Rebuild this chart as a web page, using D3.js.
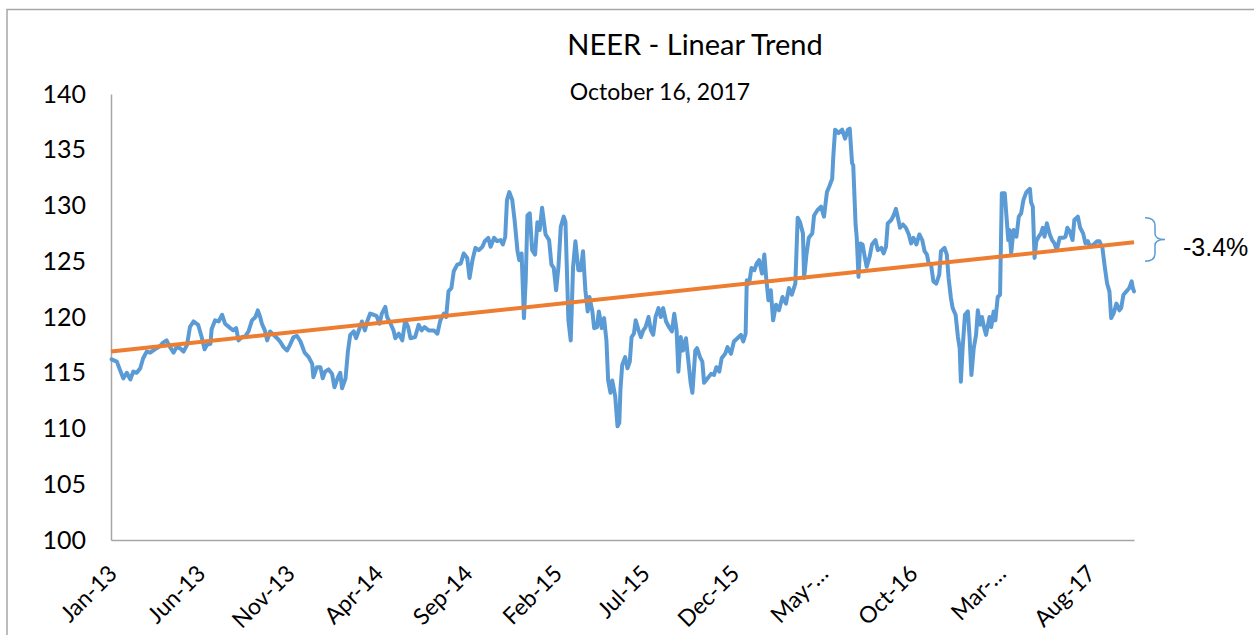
<!DOCTYPE html>
<html>
<head>
<meta charset="utf-8">
<script src="https://cdnjs.cloudflare.com/ajax/libs/d3/7.8.5/d3.min.js"></script>
<style>
  body { margin: 0; background: #fff; }
  svg { font-family: Lato, "Open Sans", sans-serif; }
</style>
</head>
<body>
<script>
// NEER daily index (date, value)
const neer = [
  ["2013-01-02",116.2],["2013-01-11",116.0],["2013-01-16",115.3],["2013-01-22",114.5],["2013-01-28",115.0],
  ["2013-02-03",114.4],["2013-02-08",115.1],["2013-02-14",115.0],["2013-02-20",115.4],["2013-02-25",116.3],
  ["2013-03-03",116.9],["2013-03-09",116.8],["2013-03-17",117.1],["2013-03-26",117.4],["2013-03-31",117.7],
  ["2013-04-06",117.9],["2013-04-12",117.3],["2013-04-18",116.8],["2013-04-23",117.3],["2013-04-29",117.2],
  ["2013-05-05",116.9],["2013-05-11",117.5],["2013-05-16",119.1],["2013-05-22",119.6],["2013-05-30",119.3],
  ["2013-06-05",118.2],["2013-06-10",117.1],["2013-06-14",117.5],["2013-06-20",117.6],["2013-06-22",118.9],["2013-06-28",119.7],
  ["2013-07-04",119.6],["2013-07-10",120.2],["2013-07-15",119.4],["2013-07-24",119.0],["2013-07-29",118.8],
  ["2013-08-03",119.0],["2013-08-07",117.9],["2013-08-13",118.2],["2013-08-19",118.3],["2013-08-24",118.7],["2013-08-30",119.7],
  ["2013-09-05",120.0],["2013-09-09",120.6],["2013-09-13",120.0],["2013-09-16",119.4],["2013-09-21",118.8],["2013-09-25",117.9],["2013-09-30",118.7],
  ["2013-10-06",118.4],["2013-10-12",118.1],["2013-10-17",117.8],["2013-10-23",117.3],["2013-10-29",117.0],
  ["2013-11-03",117.5],["2013-11-09",118.2],["2013-11-15",118.3],["2013-11-21",117.8],["2013-11-28",116.8],
  ["2013-12-05",116.4],["2013-12-11",115.8],["2013-12-13",114.6],["2013-12-19",115.5],["2013-12-25",115.5],["2013-12-29",114.5],
  ["2014-01-02",115.1],["2014-01-08",115.3],["2014-01-14",114.9],["2014-01-18",113.7],["2014-01-22",114.3],["2014-01-25",114.7],["2014-01-28",115.0],["2014-01-31",113.6],
  ["2014-02-06",114.5],["2014-02-10",116.9],["2014-02-14",118.4],["2014-02-20",118.7],["2014-02-24",118.1],["2014-02-28",118.7],
  ["2014-03-06",119.6],["2014-03-11",118.8],["2014-03-15",119.6],["2014-03-20",120.3],["2014-03-26",120.2],["2014-03-31",120.1],
  ["2014-04-05",119.4],["2014-04-09",120.3],["2014-04-15",120.9],["2014-04-18",120.0],["2014-04-24",119.4],["2014-04-29",118.8],
  ["2014-05-02",118.1],["2014-05-08",118.5],["2014-05-14",117.9],["2014-05-19",119.7],["2014-05-24",119.1],["2014-05-28",118.1],
  ["2014-06-05",118.2],["2014-06-11",119.3],["2014-06-16",118.8],["2014-06-21",119.1],["2014-06-28",118.8],
  ["2014-07-07",118.8],["2014-07-13",118.5],["2014-07-18",119.7],["2014-07-24",120.3],["2014-07-28",120.0],
  ["2014-08-01",122.3],["2014-08-06",122.6],["2014-08-10",124.1],["2014-08-16",124.7],["2014-08-22",124.8],["2014-08-27",125.7],
  ["2014-09-02",125.3],["2014-09-06",123.5],["2014-09-11",125.1],["2014-09-16",126.2],["2014-09-22",126.0],["2014-09-28",126.3],
  ["2014-10-02",126.8],["2014-10-08",127.1],["2014-10-12",126.3],["2014-10-18",127.1],["2014-10-23",126.8],["2014-10-29",126.9],
  ["2014-11-02",126.5],["2014-11-06",127.2],["2014-11-09",130.5],["2014-11-13",131.2],["2014-11-18",130.5],["2014-11-22",128.7],["2014-11-27",125.9],["2014-11-30",125.1],
  ["2014-12-04",125.7],["2014-12-08",119.9],["2014-12-11",123.3],["2014-12-14",129.1],["2014-12-18",129.3],["2014-12-22",126.0],["2014-12-27",125.6],["2014-12-31",128.5],
  ["2015-01-04",127.8],["2015-01-08",129.8],["2015-01-14",127.4],["2015-01-20",126.9],["2015-01-24",124.7],["2015-01-28",124.4],
  ["2015-02-01",122.4],["2015-02-05",124.5],["2015-02-09",128.1],["2015-02-14",129.0],["2015-02-17",128.5],["2015-02-22",119.7],["2015-02-26",117.9],
  ["2015-03-02",124.5],["2015-03-06",126.8],["2015-03-11",124.2],["2015-03-15",124.2],["2015-03-19",125.9],["2015-03-23",122.4],["2015-03-27",120.5],["2015-03-30",121.8],
  ["2015-04-04",120.5],["2015-04-07",119.0],["2015-04-12",119.1],["2015-04-15",120.5],["2015-04-20",119.0],["2015-04-24",119.9],["2015-04-28",117.9],
  ["2015-05-01",114.3],["2015-05-05",113.2],["2015-05-08",114.3],["2015-05-13",112.9],["2015-05-17",110.2],["2015-05-20",110.5],["2015-05-22",113.5],["2015-05-25",115.7],["2015-05-30",116.4],
  ["2015-06-03",115.4],["2015-06-07",116.0],["2015-06-10",118.2],["2015-06-14",118.5],["2015-06-17",119.7],["2015-06-22",118.8],["2015-06-26",118.2],["2015-06-30",118.8],
  ["2015-07-04",119.1],["2015-07-09",120.0],["2015-07-13",118.8],["2015-07-17",118.4],["2015-07-21",120.0],["2015-07-26",120.8],["2015-07-30",120.0],
  ["2015-08-03",120.8],["2015-08-08",119.6],["2015-08-13",119.1],["2015-08-18",118.7],["2015-08-22",120.3],["2015-08-26",118.8],["2015-08-29",115.1],
  ["2015-09-02",118.2],["2015-09-06",117.0],["2015-09-11",118.1],["2015-09-15",116.1],["2015-09-19",114.1],["2015-09-22",113.2],["2015-09-27",117.0],["2015-09-30",117.2],
  ["2015-10-05",116.4],["2015-10-09",116.0],["2015-10-12",114.1],["2015-10-18",114.5],["2015-10-24",114.9],["2015-10-29",114.8],
  ["2015-11-02",115.5],["2015-11-07",115.1],["2015-11-11",116.3],["2015-11-17",116.7],["2015-11-21",117.3],["2015-11-27",116.7],
  ["2015-12-02",117.8],["2015-12-08",118.1],["2015-12-14",118.4],["2015-12-18",117.8],["2015-12-22",118.5],["2015-12-24",123.3],["2015-12-28",123.0],
  ["2016-01-01",124.4],["2016-01-06",124.2],["2016-01-10",124.8],["2016-01-14",125.1],["2016-01-19",123.9],["2016-01-23",125.6],["2016-01-26",123.6],["2016-01-30",121.5],
  ["2016-02-03",122.4],["2016-02-07",119.7],["2016-02-12",121.1],["2016-02-17",120.6],["2016-02-23",121.8],["2016-02-29",121.2],
  ["2016-03-05",122.6],["2016-03-10",122.0],["2016-03-16",123.0],["2016-03-20",128.9],["2016-03-24",128.5],["2016-03-29",127.5],["2016-03-31",123.5],
  ["2016-04-04",125.6],["2016-04-08",127.1],["2016-04-14",127.5],["2016-04-17",129.1],["2016-04-23",129.6],["2016-04-29",129.9],
  ["2016-05-04",129.0],["2016-05-09",131.2],["2016-05-13",131.7],["2016-05-18",132.4],["2016-05-20",134.5],["2016-05-23",136.8],["2016-05-29",136.5],
  ["2016-06-04",136.8],["2016-06-09",136.0],["2016-06-14",136.8],["2016-06-17",136.9],["2016-06-21",133.8],["2016-06-23",133.6],["2016-06-27",128.3],["2016-06-29",127.1],
  ["2016-07-02",123.6],["2016-07-05",126.6],["2016-07-09",126.5],["2016-07-13",125.3],["2016-07-16",124.5],["2016-07-21",125.4],["2016-07-25",126.5],["2016-07-31",126.9],
  ["2016-08-04",126.0],["2016-08-10",126.2],["2016-08-14",125.7],["2016-08-18",126.3],["2016-08-21",128.4],["2016-08-27",128.7],["2016-08-31",129.1],
  ["2016-09-04",129.7],["2016-09-07",129.0],["2016-09-11",128.0],["2016-09-16",128.3],["2016-09-21",128.0],["2016-09-26",127.4],["2016-09-30",126.6],
  ["2016-10-04",127.1],["2016-10-09",126.5],["2016-10-14",127.4],["2016-10-19",126.9],["2016-10-23",125.9],["2016-10-27",125.6],["2016-10-30",124.8],
  ["2016-11-03",124.7],["2016-11-07",123.2],["2016-11-12",123.0],["2016-11-17",123.8],["2016-11-20",125.9],["2016-11-26",126.2],["2016-11-30",125.6],
  ["2016-12-03",123.5],["2016-12-07",121.7],["2016-12-10",120.8],["2016-12-15",120.2],["2016-12-19",118.2],["2016-12-22",117.2],["2016-12-24",114.2],["2016-12-27",117.2],["2016-12-31",120.2],
  ["2017-01-05",120.5],["2017-01-08",118.1],["2017-01-11",114.8],["2017-01-15",117.2],["2017-01-19",118.4],["2017-01-22",120.6],["2017-01-26",119.3],["2017-01-29",120.0],
  ["2017-02-02",119.0],["2017-02-05",118.4],["2017-02-11",120.0],["2017-02-14",119.1],["2017-02-18",120.5],["2017-02-21",119.7],["2017-02-25",121.8],
  ["2017-03-01",122.0],["2017-03-04",131.1],["2017-03-09",131.1],["2017-03-12",129.0],["2017-03-15",126.9],["2017-03-17",127.8],["2017-03-20",125.7],["2017-03-24",127.8],["2017-03-29",127.2],
  ["2017-04-02",129.0],["2017-04-06",129.3],["2017-04-10",130.5],["2017-04-15",131.2],["2017-04-21",131.5],["2017-04-23",130.3],["2017-04-26",129.9],["2017-04-29",125.3],
  ["2017-05-02",126.8],["2017-05-06",127.2],["2017-05-10",127.5],["2017-05-13",128.0],["2017-05-16",127.2],["2017-05-20",128.4],["2017-05-25",127.4],["2017-05-29",126.9],
  ["2017-06-02",126.6],["2017-06-06",126.0],["2017-06-11",127.1],["2017-06-17",127.1],["2017-06-21",127.2],["2017-06-24",128.0],["2017-06-28",127.7],
  ["2017-07-03",126.9],["2017-07-06",128.7],["2017-07-12",129.0],["2017-07-16",128.0],["2017-07-21",127.5],["2017-07-25",126.6],["2017-07-29",126.8],
  ["2017-08-02",126.3],["2017-08-08",126.5],["2017-08-14",126.8],["2017-08-18",126.8],["2017-08-23",126.2],["2017-08-27",124.5],["2017-08-31",123.0],
  ["2017-09-04",122.3],["2017-09-07",119.9],["2017-09-11",120.3],["2017-09-16",121.2],["2017-09-21",120.6],["2017-09-24",120.8],["2017-09-28",122.0],
  ["2017-10-03",122.3],["2017-10-08",122.6],["2017-10-12",123.2],["2017-10-14",122.6],["2017-10-16",122.3]
];

// linear trend end points (as drawn)
const trendDates = ["2013-01-01", "2017-10-16"];
const trendValues = [116.9, 126.7];

// axis ticks
const tickDates = ["2013-01-01","2013-06-01","2013-11-01","2014-04-01","2014-09-01","2015-02-01",
                   "2015-07-01","2015-12-01","2016-05-01","2016-10-01","2017-03-01","2017-08-01"];
const tickLabels = ["Jan-13","Jun-13","Nov-13","Apr-14","Sep-14","Feb-15",
                    "Jul-15","Dec-15","May-…","Oct-16","Mar-…","Aug-17"];
const yTicks = [100, 105, 110, 115, 120, 125, 130, 135, 140];

// annotation
const braceTop = 128.9, braceBottom = 125.0;
const changeLabel = "-3.4%";

const width = 1254, height = 635;
const parse = d3.timeParse("%Y-%m-%d");

const svg = d3.select("body").append("svg")
    .attr("width", width)
    .attr("height", height);

// chart frame (right and bottom edges fall outside the picture)
svg.append("rect")
    .attr("x", 7).attr("y", 9.5)
    .attr("width", 1300).attr("height", 700)
    .attr("fill", "none")
    .attr("stroke", "#a6a6a6")
    .attr("stroke-width", 1.5);

const x = d3.scaleTime()
    .domain([parse("2013-01-01"), parse("2017-10-16")])
    .range([111, 1134]);
const y = d3.scaleLinear()
    .domain([100, 140])
    .range([540, 94]);

// y axis
const yAxis = svg.append("g")
    .attr("transform", "translate(111,0)")
    .call(d3.axisLeft(y).tickValues(yTicks).tickSize(0).tickSizeOuter(0).tickPadding(25));
yAxis.select(".domain").attr("stroke", "#a6a6a6").attr("stroke-width", 1.5);
yAxis.selectAll("text")
    .attr("font-size", 25)
    .attr("font-family", "Lato, sans-serif")
    .attr("fill", "#000");

// x axis
const xAxis = svg.append("g")
    .attr("transform", "translate(0,540)")
    .call(d3.axisBottom(x)
      .tickValues(tickDates.map(parse))
      .tickSize(0).tickSizeOuter(0)
      .tickFormat((d, i) => tickLabels[i]));
xAxis.select(".domain").attr("stroke", "#a6a6a6").attr("stroke-width", 1.5);
xAxis.selectAll("text")
    .attr("font-size", 23)
    .attr("font-family", "Lato, sans-serif")
    .attr("fill", "#000")
    .attr("x", 0).attr("y", 0).attr("dy", 0)
    .attr("text-anchor", "end")
    .attr("transform", "translate(7,35) rotate(-45)");

// NEER series
const line = d3.line()
    .x(d => x(parse(d[0])))
    .y(d => y(d[1]));

svg.append("path")
    .datum(neer)
    .attr("d", line)
    .attr("fill", "none")
    .attr("stroke", "#5b9bd5")
    .attr("stroke-width", 4)
    .attr("stroke-linejoin", "round")
    .attr("stroke-linecap", "round");

// trend line
svg.append("path")
    .datum(trendDates.map((d, i) => [d, trendValues[i]]))
    .attr("d", line)
    .attr("fill", "none")
    .attr("stroke", "#ed7d31")
    .attr("stroke-width", 4);

// titles
svg.append("text")
    .attr("x", 695).attr("y", 55)
    .attr("text-anchor", "middle")
    .attr("font-size", 29)
    .attr("fill", "#000")
    .text("NEER - Linear Trend");

svg.append("text")
    .attr("x", 660).attr("y", 100)
    .attr("text-anchor", "middle")
    .attr("font-size", 23)
    .attr("fill", "#000")
    .text("October 16, 2017");

// brace + change label
const bx = 1145, t = y(braceTop), b = y(braceBottom), m = (t + b) / 2;
svg.append("path")
    .attr("d", `M${bx},${t} Q${bx + 10},${t} ${bx + 10},${t + 8} L${bx + 10},${m - 6} Q${bx + 10},${m} ${bx + 20},${m}` +
               ` Q${bx + 10},${m} ${bx + 10},${m + 6} L${bx + 10},${b - 8} Q${bx + 10},${b} ${bx},${b}`)
    .attr("fill", "none")
    .attr("stroke", "#5b9bd5")
    .attr("stroke-width", 1.5);

svg.append("text")
    .attr("x", 1183).attr("y", 256)
    .attr("font-family", "'Liberation Sans', Arial, sans-serif")
    .attr("font-size", 25)
    .attr("fill", "#000")
    .text(changeLabel);
</script>
</body>
</html>
